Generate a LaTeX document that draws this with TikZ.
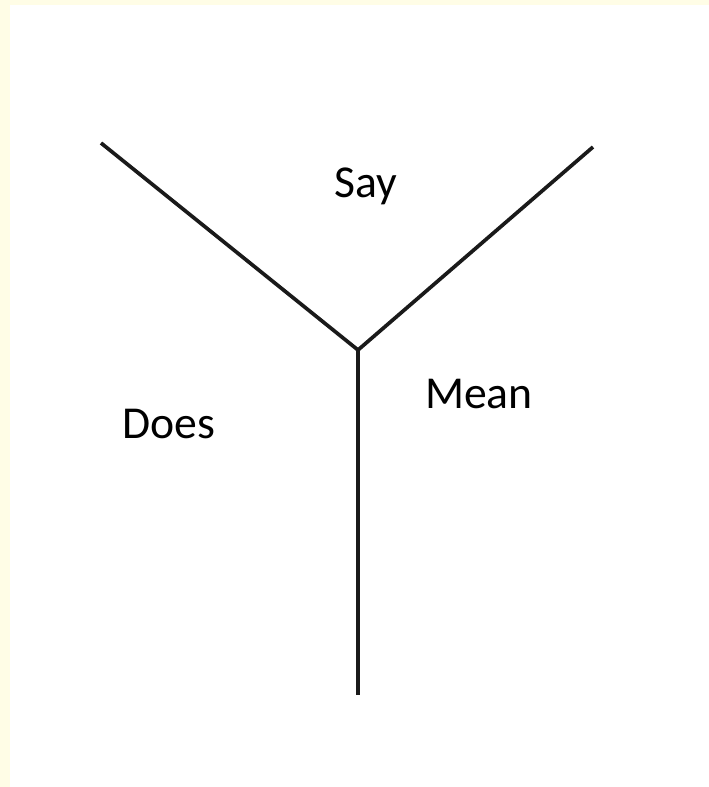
\documentclass[tikz,border=0pt]{standalone}
\usepackage{fontspec}
\setmainfont{Carlito}
\usepackage{xcolor}
\usepackage{tikz}
\usetikzlibrary{positioning}
\definecolor{cream}{HTML}{FFFDE6}
\definecolor{inkdark}{HTML}{1A1A1A}
\tikzset{
  yline/.style={draw=inkdark,line width=2.1pt,line join=miter},
  ylabel/.style={anchor=base,inner sep=0pt,font=\fontsize{26}{31}\selectfont,text=black}
}
\begin{document}
\begin{tikzpicture}[x=0.02cm,y=-0.02cm]
  % page and cream edge
  \fill[cream] (0,0) rectangle (709,787);
  \fill[white] (10,5) rectangle (709,787);
  \useasboundingbox (0,0) rectangle (709,787);
  \coordinate (lefttip) at (101,143);
  \coordinate (righttip) at (593,147);
  \coordinate (fork) at (358,350);
  \coordinate (foot) at (358,695);
  \node[ylabel] (say) at (366,197) {Say};
  \node[ylabel] (does) at (169,438) {Does};
  \node[ylabel] (mean) at (479,408) {Mean};
  \draw[yline] (lefttip)--(fork)--(righttip);
  \draw[yline] (fork)--(foot);
\end{tikzpicture}
\end{document}
